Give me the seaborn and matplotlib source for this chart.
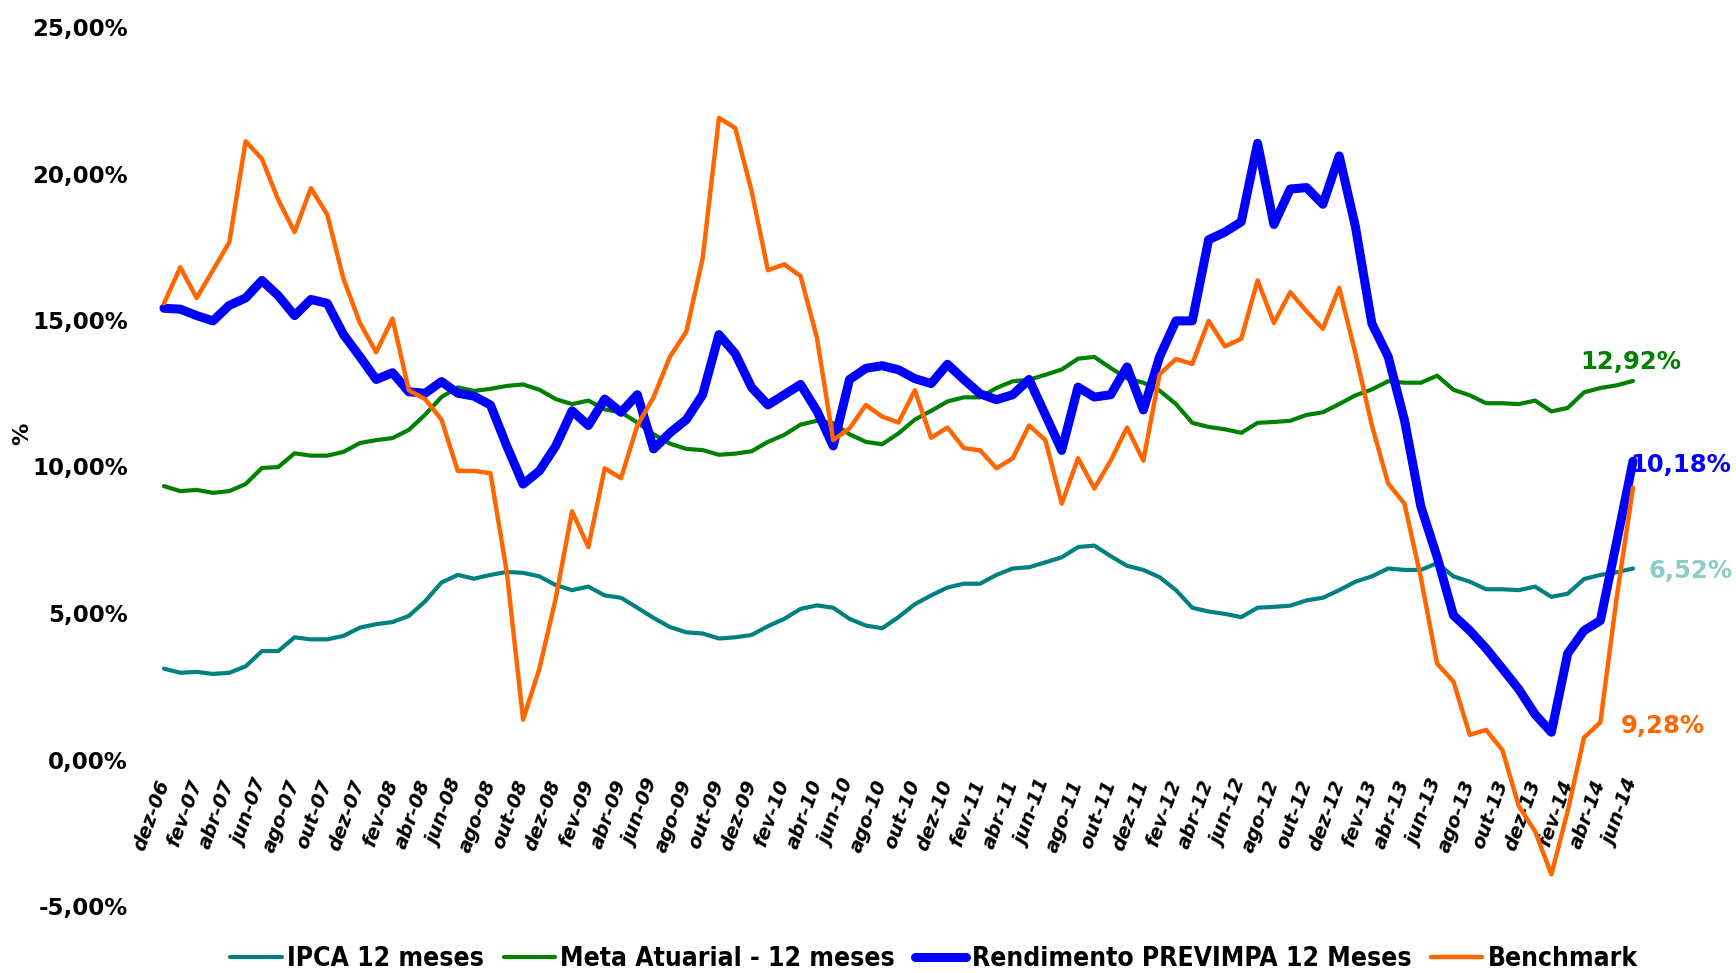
import matplotlib
matplotlib.use('Agg')
import matplotlib.pyplot as plt
from matplotlib import font_manager
from matplotlib.font_manager import FontProperties
import pandas as pd
import seaborn as sns

### data (monthly, dez-06 .. jun-14)
mes_abrev = ['jan', 'fev', 'mar', 'abr', 'mai', 'jun', 'jul', 'ago', 'set', 'out', 'nov', 'dez']
meses = ['dez-06'] + ['%s-%02d' % (m, a) for a in range(7, 15) for m in mes_abrev][:90]

ipca = [3.10, 2.96, 2.99, 2.92, 2.96, 3.18, 3.70, 3.70, 4.17, 4.10, 4.10, 4.22, 4.50, 4.62, 4.69, 4.90,
        5.40, 6.04, 6.30, 6.17, 6.30, 6.40, 6.37, 6.25, 5.95, 5.78, 5.90, 5.60, 5.52, 5.18, 4.83, 4.52,
        4.34, 4.30, 4.13, 4.17, 4.25, 4.55, 4.80, 5.14, 5.26, 5.18, 4.80, 4.57, 4.48, 4.86, 5.30, 5.60,
        5.87, 6.00, 6.00, 6.30, 6.52, 6.56, 6.73, 6.90, 7.25, 7.30, 6.94, 6.61, 6.47, 6.22, 5.78, 5.18,
        5.05, 4.97, 4.86, 5.18, 5.21, 5.25, 5.43, 5.52, 5.78, 6.07, 6.25, 6.52, 6.47, 6.47, 6.70, 6.25,
        6.07, 5.81, 5.81, 5.78, 5.90, 5.55, 5.66, 6.16, 6.30, 6.39, 6.52]

meta = [9.33, 9.16, 9.20, 9.10, 9.16, 9.40, 9.95, 9.98, 10.45, 10.37, 10.37, 10.50, 10.80, 10.90, 10.97, 11.25,
        11.77, 12.37, 12.70, 12.58, 12.65, 12.75, 12.80, 12.62, 12.30, 12.13, 12.25, 11.95, 11.85, 11.50, 11.10, 10.78,
        10.60, 10.56, 10.40, 10.44, 10.52, 10.84, 11.08, 11.43, 11.56, 11.48, 11.10, 10.84, 10.76, 11.13, 11.60, 11.90,
        12.22, 12.36, 12.36, 12.68, 12.91, 12.96, 13.13, 13.31, 13.68, 13.74, 13.36, 13.01, 12.86, 12.59, 12.13, 11.49,
        11.35, 11.27, 11.15, 11.49, 11.52, 11.56, 11.76, 11.85, 12.13, 12.43, 12.63, 12.91, 12.86, 12.86, 13.10, 12.62,
        12.43, 12.16, 12.16, 12.13, 12.25, 11.88, 12.00, 12.53, 12.68, 12.77, 12.92]

rendimento = [15.40, 15.37, 15.15, 14.97, 15.50, 15.75, 16.35, 15.83, 15.15, 15.70, 15.57, 14.50, 13.75, 12.97, 13.20, 12.55,
              12.50, 12.90, 12.50, 12.40, 12.10, 10.70, 9.40, 9.85, 10.70, 11.90, 11.40, 12.30, 11.85, 12.45, 10.60, 11.15,
              11.60, 12.45, 14.50, 13.85, 12.70, 12.10, 12.45, 12.80, 11.90, 10.70, 12.97, 13.35, 13.44, 13.30, 13.00, 12.83,
              13.49, 12.97, 12.48, 12.28, 12.45, 12.97, 11.76, 10.55, 12.71, 12.37, 12.45, 13.40, 11.93, 13.75, 14.97, 14.97,
              17.74, 18.00, 18.35, 21.03, 18.26, 19.47, 19.52, 18.95, 20.60, 18.17, 14.88, 13.75, 11.58, 8.64, 6.91, 4.92,
              4.40, 3.79, 3.10, 2.40, 1.54, 0.93, 3.62, 4.40, 4.74, 7.43, 10.18]

benchmark = [15.57, 16.80, 15.75, 16.70, 17.65, 21.10, 20.50, 19.10, 18.00, 19.50, 18.60, 16.40, 14.90, 13.90, 15.05, 12.60,
             12.30, 11.60, 9.85, 9.85, 9.77, 6.40, 1.36, 3.10, 5.50, 8.47, 7.25, 9.94, 9.60, 11.40, 12.37, 13.75,
             14.60, 17.10, 21.90, 21.55, 19.40, 16.70, 16.90, 16.50, 14.40, 10.90, 11.30, 12.10, 11.70, 11.50, 12.60, 10.98,
             11.33, 10.63, 10.55, 9.94, 10.28, 11.40, 10.90, 8.73, 10.28, 9.25, 10.20, 11.33, 10.20, 13.15, 13.67, 13.50,
             14.97, 14.10, 14.36, 16.35, 14.90, 15.95, 15.30, 14.70, 16.10, 13.84, 11.41, 9.42, 8.73, 6.21, 3.27, 2.66,
             0.84, 1.01, 0.32, -1.59, -2.45, -3.92, -1.76, 0.75, 1.27, 5.52, 9.28]

y_ticks = [-5, 0, 5, 10, 15, 20, 25]

### build a frame
df = pd.DataFrame({'pos': range(len(meses)), 'mes': meses, 'IPCA 12 meses': ipca,
                   'Meta Atuarial - 12 meses': meta, 'Rendimento PREVIMPA 12 Meses': rendimento,
                   'Benchmark': benchmark})

series = [('IPCA 12 meses', '#008080', 3.0),
          ('Meta Atuarial - 12 meses', '#008000', 3.0),
          ('Rendimento PREVIMPA 12 Meses', '#0000FF', 6.5),
          ('Benchmark', '#FF6600', 3.2)]

sns.set_style('white')
plt.rcParams['font.family'] = ['DejaVu Sans']
plt.rcParams['text.color'] = 'black'
plt.rcParams['xtick.color'] = 'black'
plt.rcParams['ytick.color'] = 'black'

### pick a narrow upright bold font for the legend if one is around
narrow = None
for nome in ['Liberation Sans Narrow', 'DejaVu Sans']:
    for f in font_manager.fontManager.ttflist:
        if narrow is None and f.name == nome and f.style == 'normal' and f.weight in ('bold', 700) \
                and (nome != 'DejaVu Sans' or f.stretch == 'condensed'):
            narrow = f.fname
if narrow is not None:
    leg_font = FontProperties(fname=narrow, size=19)
    leg_hl = 1.95
else:
    leg_font = FontProperties(family=['Liberation Sans', 'DejaVu Sans'], weight='bold', size=19.5)
    leg_hl = 1.9

fig = plt.figure(figsize=(17.36, 9.73), dpi=100)
ax = fig.add_axes([164 / 1736, 1 - 906 / 973, (1633 - 164) / 1736, (906 - 27) / 973])

for name, cor, lw in series:
    sns.lineplot(data=df, x='pos', y=name, ax=ax, color=cor, linewidth=lw, label=name,
                 solid_joinstyle='round', solid_capstyle='round', clip_on=False)

ax.set_xlim(0, len(meses) - 1)
ax.set_ylim(-5, 25)

### axes cosmetics
for s in ['top', 'right', 'left']:
    ax.spines[s].set_visible(False)
ax.spines['bottom'].set_position(('data', 0))
ax.spines['bottom'].set_color('none')

ax.set_xticks(df['pos'][::2])
ax.set_xticklabels(df['mes'][::2], rotation=70, ha='right', va='center', rotation_mode='anchor',
                   fontsize=14, fontweight='bold', fontstyle='italic')
ax.tick_params(axis='x', length=0, pad=15)

ax.set_yticks(y_ticks)
ax.set_yticklabels([('%.2f' % v).replace('.', ',') + '%' for v in y_ticks], fontsize=16.5, fontweight='bold')
ax.tick_params(axis='y', length=0, pad=26)
ax.set_xlabel('')
ax.set_ylabel('')
ax.grid(False)
fig.text(22 / 1736, 1 - 434 / 973, '%', rotation=90, ha='center', va='center', fontsize=16, fontweight='bold')

### end labels
ult = len(meses) - 1
ax.annotate('12,92%', (ult, meta[-1]), xytext=(-1.5, 13.5), textcoords='offset points',
            ha='center', va='center', color='#008000', fontsize=17.5, fontweight='bold')
ax.annotate('10,18%', (ult, rendimento[-1]), xytext=(-2, -3), textcoords='offset points',
            ha='left', va='center', color='#0000FF', fontsize=17.5, fontweight='bold')
ax.annotate('6,52%', (ult, ipca[-1]), xytext=(11, -1.5), textcoords='offset points',
            ha='left', va='center', color='#8CCBCB', fontsize=17.5, fontweight='bold')
ax.annotate('9,28%', (ult, benchmark[-1]), xytext=(-9, -172), textcoords='offset points',
            ha='left', va='center', color='#FF6600', fontsize=17.5, fontweight='bold')

### legend at the bottom
handles, labels = ax.get_legend_handles_labels()
ax.get_legend().remove()
fig.legend(handles, labels, loc='center', bbox_to_anchor=(0.538, 0.014), ncol=4, frameon=False,
           prop=leg_font, handlelength=leg_hl, handletextpad=0.2, columnspacing=0.75, borderaxespad=0)

fig.savefig('out.png', dpi=100)
